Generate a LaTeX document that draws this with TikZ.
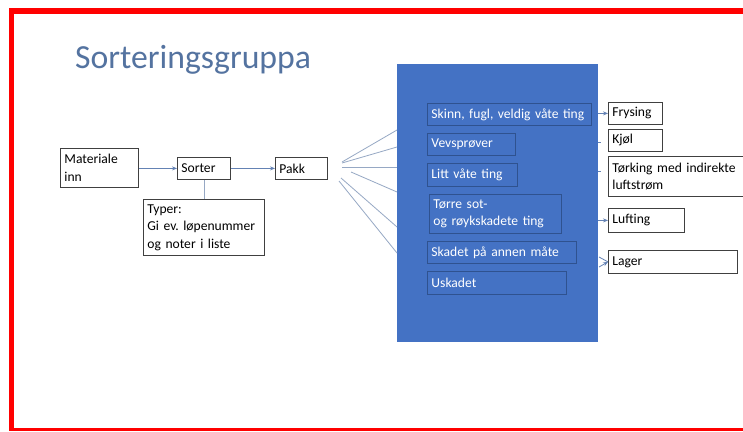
\documentclass[tikz,border=0pt]{standalone}
\usepackage{fontspec}
\setmainfont{Carlito}
\frenchspacing
\usetikzlibrary{arrows.meta}
\definecolor{frame}{RGB}{255,0,0}
\definecolor{titlec}{RGB}{84,115,160}
\definecolor{bigblue}{RGB}{68,114,196}
\definecolor{innerb}{RGB}{47,82,143}
\definecolor{conn}{RGB}{150,168,196}
\definecolor{arr}{RGB}{100,130,180}
\tikzset{
  wbox/.style={draw=black!75, line width=0.8pt, fill=white, anchor=north west, align=left, inner xsep=4pt, inner ysep=0pt, font=\fontsize{13.6}{17.5}\selectfont, text=black},
  ibox/.style={draw=innerb, line width=0.9pt, anchor=north west, align=left, inner xsep=4pt, inner ysep=0pt, font=\fontsize{13.6}{17.5}\selectfont, text=white},
  fan/.style={draw=conn, line width=0.8pt},
  conarrow/.style={draw=arr, line width=0.8pt, -{Stealth[length=5pt,width=4pt]}},
  tick/.style={draw=arr, line width=0.8pt}
}
\begin{document}
\begin{tikzpicture}[x=1pt,y=-1pt]
\useasboundingbox (0,0) rectangle (743,431);
\fill[white] (0,0) rectangle (743,431);
% red frame
\fill[frame] (9,8) rectangle (743,14);
\fill[frame] (9,8) rectangle (14,431);
\fill[frame] (9,428) rectangle (743,430.5);
% title
\node[anchor=base west, text=titlec, font=\fontsize{33.7}{38}\selectfont, inner sep=0pt] (title) at (75,68) {Sorteringsgruppa};
% big blue
\node[fill=bigblue, draw=none, anchor=north west, minimum width=201pt, minimum height=278pt, inner sep=0pt] (big) at (397,64) {};
% inner boxes
\node[ibox, text width=156pt, minimum height=22pt] (s1) at (427,103) {Skinn, fugl, veldig våte ting};
\node[ibox, text width=80pt, minimum height=22pt] (s2) at (427,133) {Vevsprøver};
\node[ibox, text width=82pt, minimum height=23pt] (s3) at (427,163) {Litt våte ting};
\node[ibox, text width=124pt, minimum height=39pt] (s4) at (429,194) {Tørre sot-\\og røykskadete ting};
\node[ibox, text width=141pt, minimum height=22pt] (s5) at (427,241) {Skadet på annen måte};
\node[ibox, text width=131pt, minimum height=23pt] (s6) at (427,271) {Uskadet};
% right boxes
\node[wbox, text width=46pt, minimum height=22pt] (fry) at (608,102) {Frysing};
\node[wbox, text width=46pt, minimum height=22pt] (kjol) at (608,129) {Kjøl};
\node[wbox, text width=140pt, minimum height=40pt] (tork) at (608,156) {Tørking med indirekte\\luftstrøm};
\node[wbox, text width=68pt, minimum height=24pt] (luft) at (608,208) {Lufting};
\node[wbox, text width=121pt, minimum height=23pt] (lager) at (608,250) {Lager};
% left boxes
\node[wbox, text width=70pt, minimum height=39pt] (mat) at (60,148) {Materiale\\inn};
\node[wbox, text width=45pt, minimum height=22pt] (sort) at (177,157) {Sorter};
\node[wbox, text width=44pt, minimum height=22pt] (pakk) at (275,157) {Pakk};
\node[wbox, text width=113pt, minimum height=56pt] (typer) at (143,199) {Typer:\\Gi ev. løpenummer\\og noter i liste};
% left connectors
\draw[conarrow] (mat.east |- sort.west) -- (sort.west);
\draw[conarrow] (sort.east) -- (pakk.west);
\draw[draw=conn, line width=0.8pt] (sort.south) -- (sort.south |- typer.north);
% fan
\coordinate (f1) at (342,162);
\coordinate (f2) at (342,163);
\coordinate (f3) at (342,167);
\coordinate (f4) at (351,172);
\coordinate (f5) at (341,178);
\coordinate (f6) at (339,181);
\draw[fan] (f1) -- (big.west |- 0,130);
\draw[fan] (f2) -- (big.west |- 0,147);
\draw[fan] (f3) -- (big.west |- 0,167);
\draw[fan] (f4) -- (big.west |- 0,192);
\draw[fan] (f5) -- (big.west |- 0,227);
\draw[fan] (f6) -- (big.west |- 0,253);
% right connectors
\draw[conarrow] (big.east |- fry.west) -- (fry.west);
\draw[tick] (big.east |- 0,142) -- ++(3,0);
\draw[tick] (big.east |- 0,171) -- ++(3,0);
\draw[conarrow] (big.east |- luft.west) -- (luft.west);
\coordinate (lg1) at (599,257);
\coordinate (lg2) at (599,267);
\draw[tick] (lg1) -- (lager.west);
\draw[conarrow] (lg2) -- (lager.west);
\end{tikzpicture}
\end{document}
